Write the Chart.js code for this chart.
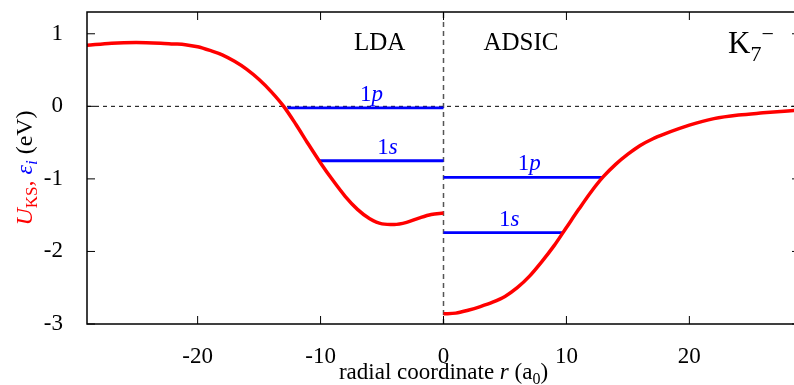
<!DOCTYPE html>
<html>
<head>
<meta charset="utf-8">
<script src="https://cdn.jsdelivr.net/npm/chart.js@4.4.1/dist/chart.umd.min.js"></script>
<style>
  html, body { margin: 0; padding: 0; background: #fff; overflow: hidden; }
  #wrap { width: 794px; height: 385px; overflow: hidden; }
  canvas { display: block; }
</style>
</head>
<body>
<div id="wrap"><canvas id="potential" width="800" height="385"></canvas></div>
<script>
const SERIF = '"Liberation Serif", "Times New Roman", serif';

// Kohn-Sham potential of K7-, LDA on the negative side, ADSIC on the positive side
const ldaR = [-29, -27, -25, -23, -22, -21, -20, -19, -18, -17, -16, -15, -14, -13, -12, -11, -10, -9, -8, -7, -6, -5, -4, -3, -2, -1, 0];
const ldaU = [0.84, 0.87, 0.88, 0.87, 0.86, 0.85, 0.82, 0.77, 0.71, 0.62, 0.51, 0.37, 0.20, 0.0, -0.25, -0.52, -0.78, -1.02, -1.24, -1.42, -1.55, -1.62, -1.63, -1.60, -1.54, -1.49, -1.47];
const adsicR = [0, 1, 2, 3, 4, 5, 6, 7, 8, 9, 10, 11, 12, 13, 14, 15, 16, 17, 18, 20, 22, 24, 26, 29];
const adsicU = [-2.86, -2.85, -2.81, -2.76, -2.70, -2.62, -2.50, -2.34, -2.14, -1.92, -1.67, -1.42, -1.18, -0.97, -0.80, -0.66, -0.54, -0.45, -0.38, -0.26, -0.17, -0.12, -0.09, -0.05];

// single-particle levels (eV) and the r range each one spans
const levelNames = ['1p', '1s', '1p', '1s'];
const levelEnergy = [-0.02, -0.75, -0.98, -1.74];
const levelFrom = [-12.7, -10.1, 0, 0];
const levelTo = [0, 0, 12.95, 9.7];

const xTicks = [-20, -10, 0, 10, 20];
const yTicks = [-3, -2, -1, 0, 1];
const xMin = -29, xMax = 29, yMin = -3, yMax = 1.3;

const zip = (xs, ys) => xs.map((x, i) => ({ x: x, y: ys[i] }));

function fontOf(p, size) {
  return (p.italic ? 'italic ' : '') + Math.round(size * (p.scale || 1)) + 'px ' + SERIF;
}

// draws a run of text pieces (italic, sub/superscript, colour) on one baseline
function drawRich(ctx, parts, x, y, size, align) {
  const widths = parts.map(p => { ctx.font = fontOf(p, size); return ctx.measureText(p.text).width; });
  const total = widths.reduce((a, b) => a + b, 0);
  let cx = align === 'center' ? x - total / 2 : (align === 'right' ? x - total : x);
  ctx.textAlign = 'left';
  ctx.textBaseline = 'alphabetic';
  parts.forEach((p, i) => {
    ctx.font = fontOf(p, size);
    ctx.fillStyle = p.color || '#000';
    ctx.fillText(p.text, cx, y + (p.shift || 0) * size);
    cx += widths[i];
  });
}

const datasets = [
  { data: zip(ldaR, ldaU), borderColor: '#ff0000', borderWidth: 3.5, cubicInterpolationMode: 'monotone', order: 0 },
  { data: zip(adsicR, adsicU), borderColor: '#ff0000', borderWidth: 3.5, cubicInterpolationMode: 'monotone', order: 0 },
  { data: [{ x: xMin, y: 0 }, { x: xMax, y: 0 }], borderColor: '#000', borderWidth: 1, borderDash: [4, 4], order: 3 },
  { data: [{ x: 0, y: yMin }, { x: 0, y: yMax }], borderColor: '#555', borderWidth: 1.5, borderDash: [5, 4], order: 3 }
];
levelEnergy.forEach((e, i) => {
  datasets.push({
    data: [{ x: levelFrom[i], y: e }, { x: levelTo[i], y: e }],
    borderColor: '#0000ff', borderWidth: 2.8, order: 1
  });
});

const annotations = {
  id: 'annotations',
  afterDatasetsDraw(chart) {
    const { ctx, chartArea: a, scales: { x, y } } = chart;
    ctx.save();

    // frame with inward ticks on all four sides
    ctx.strokeStyle = '#000';
    ctx.lineWidth = 1.5;
    ctx.strokeRect(a.left, a.top, a.right - a.left, a.bottom - a.top);
    ctx.lineWidth = 1;
    xTicks.forEach(v => {
      const px = x.getPixelForValue(v);
      ctx.beginPath();
      ctx.moveTo(px, a.bottom); ctx.lineTo(px, a.bottom - 8);
      ctx.moveTo(px, a.top); ctx.lineTo(px, a.top + 8);
      ctx.stroke();
    });
    yTicks.forEach(v => {
      const py = y.getPixelForValue(v);
      ctx.beginPath();
      ctx.moveTo(a.left, py); ctx.lineTo(a.left + 8, py);
      ctx.moveTo(a.right, py); ctx.lineTo(a.right - 8, py);
      ctx.stroke();
    });

    // level names above each line
    levelNames.forEach((name, i) => {
      const mid = (levelFrom[i] + levelTo[i]) / 2 + 0.5;
      drawRich(ctx, [
        { text: name[0], color: '#0000ff' },
        { text: name.slice(1), italic: true, color: '#0000ff' }
      ], x.getPixelForValue(mid), y.getPixelForValue(levelEnergy[i]) - 7, 23, 'center');
    });

    // method names and cluster label
    drawRich(ctx, [{ text: 'LDA' }], x.getPixelForValue(-5.2), 50, 25, 'center');
    drawRich(ctx, [{ text: 'ADSIC' }], x.getPixelForValue(6.3), 50, 25, 'center');
    drawRich(ctx, [
      { text: 'K' },
      { text: '7', scale: 0.7, shift: 0.25 },
      { text: '\u2212', scale: 0.7, shift: -0.4 }
    ], 728, 53, 31, 'left');

    // axis titles
    drawRich(ctx, [
      { text: 'radial coordinate ' },
      { text: 'r', italic: true },
      { text: ' (a' },
      { text: '0', scale: 0.7, shift: 0.2 },
      { text: ')' }
    ], x.getPixelForValue(0), 379, 23, 'center');

    ctx.translate(32, 168);
    ctx.rotate(-Math.PI / 2);
    drawRich(ctx, [
      { text: 'U', italic: true, color: '#ff0000' },
      { text: 'KS', scale: 0.7, shift: 0.2, color: '#ff0000' },
      { text: ', ', color: '#ff0000' },
      { text: '\u03b5', italic: true, color: '#0000ff' },
      { text: 'i', italic: true, scale: 0.7, shift: 0.2, color: '#0000ff' },
      { text: ' (eV)' }
    ], 0, 0, 24, 'center');

    ctx.restore();
  }
};

new Chart(document.getElementById('potential'), {
  type: 'scatter',
  data: { datasets: datasets },
  options: {
    responsive: false,
    animation: false,
    showLine: true,
    layout: { padding: { top: 12, right: 0, left: 0, bottom: 0 } },
    elements: {
      point: { radius: 0 },
      line: { borderCapStyle: 'butt' }
    },
    plugins: { legend: { display: false }, tooltip: { enabled: false } },
    scales: {
      x: {
        type: 'linear', min: xMin, max: xMax,
        grid: { display: false }, border: { display: false },
        afterBuildTicks: s => { s.ticks = xTicks.map(v => ({ value: v })); },
        afterFit: s => { s.height = 61; s.paddingLeft = 0; s.paddingRight = 0; },
        ticks: { padding: 11, color: '#000', maxRotation: 0, font: { family: SERIF, size: 23 }, callback: v => String(v) }
      },
      y: {
        type: 'linear', min: yMin, max: yMax,
        grid: { display: false }, border: { display: false },
        afterBuildTicks: s => { s.ticks = yTicks.map(v => ({ value: v })); },
        afterFit: s => { s.width = 87; s.paddingTop = 0; s.paddingBottom = 0; },
        ticks: { padding: 16, color: '#000', font: { family: SERIF, size: 23 }, callback: v => String(v) }
      }
    }
  },
  plugins: [annotations]
});
</script>
</body>
</html>
